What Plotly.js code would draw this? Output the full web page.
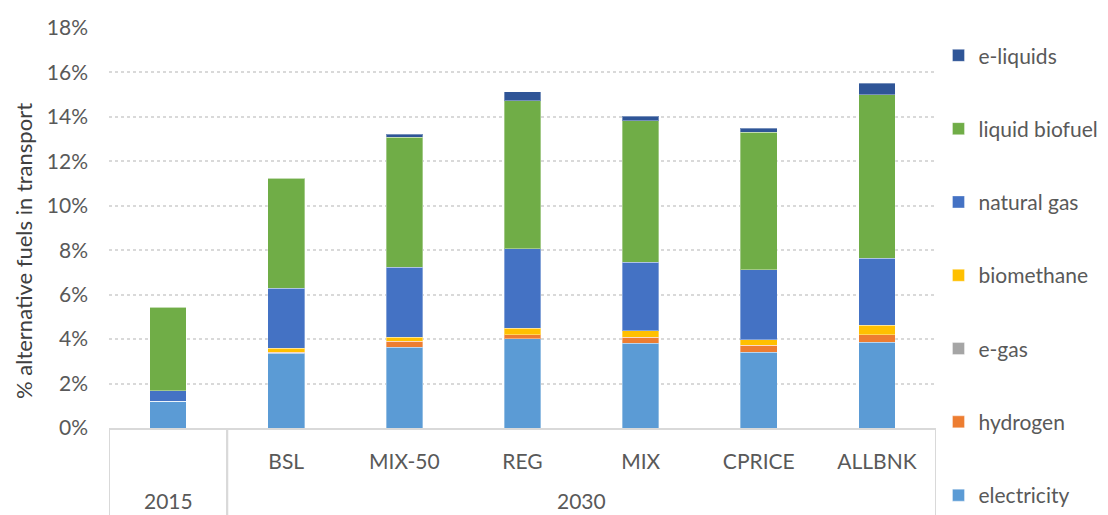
<!DOCTYPE html>
<html>
<head>
<meta charset="utf-8">
<script src="https://cdn.plot.ly/plotly-3.0.1.min.js"></script>
<style>html,body{margin:0;padding:0;background:#fff;}#chart{width:1108px;height:515px;}</style>
</head>
<body>
<div id="chart"></div>
<script>
// Categories (two-level x axis)
var years = ['2015', '2030', '2030', '2030', '2030', '2030', '2030'];
var scenarios = [' ', 'BSL', 'MIX-50', 'REG', 'MIX', 'CPRICE', 'ALLBNK'];

// Shares of alternative fuels in transport (%)
var electricity   = [1.20, 3.36, 3.63, 4.02, 3.81, 3.40, 3.87];
var hydrogen      = [0.00, 0.04, 0.28, 0.18, 0.28, 0.33, 0.33];
var eGas          = [0.00, 0.00, 0.00, 0.00, 0.00, 0.00, 0.00];
var biomethane    = [0.00, 0.18, 0.17, 0.29, 0.29, 0.24, 0.42];
var naturalGas    = [0.47, 2.72, 3.15, 3.57, 3.09, 3.16, 3.03];
var liquidBiofuel = [3.76, 4.95, 5.85, 6.66, 6.36, 6.19, 7.35];
var eLiquids      = [0.00, 0.00, 0.15, 0.41, 0.19, 0.18, 0.52];

var seriesNames = ['electricity', 'hydrogen', 'e-gas', 'biomethane', 'natural gas', 'liquid biofuel', 'e-liquids'];
var seriesValues = [electricity, hydrogen, eGas, biomethane, naturalGas, liquidBiofuel, eLiquids];
var seriesColors = ['#5B9BD5', '#ED7D31', '#A5A5A5', '#FFC000', '#4472C4', '#70AD47', '#2F5597'];

var traces = seriesNames.map(function (name, i) {
  return {
    type: 'bar',
    name: name,
    legendgroup: name,
    legendrank: seriesNames.length - i,
    x: scenarios,
    y: seriesValues[i],
    width: 0.31,
    marker: {color: seriesColors[i], line: {color: 'rgba(255,255,255,0.35)', width: 1}},
    hoverinfo: 'name+y'
  };
});

var font = 'Lato, "Open Sans", sans-serif';
var textColor = '#595959';

// Group (year) labels centred under their categories, with box lines around groups
var groupNames = [];
years.forEach(function (y) { if (groupNames.indexOf(y) < 0) groupNames.push(y); });
var annotations = [];
var shapes = [];
var boxBottom = -87 / 400;
groupNames.forEach(function (g) {
  var idx = [];
  years.forEach(function (y, i) { if (y === g) idx.push(i); });
  var first = idx[0], last = idx[idx.length - 1];
  annotations.push({
    text: g, xref: 'x', yref: 'paper', x: (first + last) / 2, y: -72 / 400,
    xanchor: 'center', yanchor: 'middle', showarrow: false,
    font: {family: font, size: 21, color: textColor}
  });
  [first - 0.5, last + 0.5].forEach(function (xb) {
    shapes.push({type: 'line', xref: 'x', yref: 'paper', x0: xb, x1: xb, y0: 0, y1: boxBottom,
                 line: {color: '#d9d9d9', width: 2}});
  });
});

annotations.push({
  text: '% alternative fuels in transport',
  textangle: -90,
  xref: 'paper', yref: 'paper',
  x: -0.104, y: 0.4425,
  xanchor: 'center', yanchor: 'middle',
  showarrow: false,
  font: {family: font, size: 22, color: '#404040'}
});

var layout = {
  width: 1108,
  height: 515,
  barmode: 'stack',
  paper_bgcolor: '#ffffff',
  plot_bgcolor: '#ffffff',
  margin: {l: 109, r: 172, t: 28, b: 87, autoexpand: false},
  font: {family: font, size: 21, color: textColor},
  xaxis: {
    type: 'category',
    range: [-0.5, 6.5],
    showline: true,
    linecolor: '#d9d9d9',
    linewidth: 2,
    ticks: '',
    ticklabelstandoff: 14,
    tickfont: {family: font, size: 21, color: textColor},
    showgrid: false,
    automargin: false
  },
  yaxis: {
    range: [0, 18],
    dtick: 2,
    ticksuffix: '%',
    showgrid: true,
    gridcolor: '#d9d9d9',
    griddash: 'dot',
    gridwidth: 1.5,
    zeroline: false,
    showline: false,
    ticks: '',
    ticklabelstandoff: 20,
    tickfont: {family: font, size: 21, color: textColor},
    automargin: false
  },
  legend: {
    x: 1.003,
    xanchor: 'left',
    y: 0.982,
    yanchor: 'top',
    maxheight: 515,
    traceorder: 'grouped',
    tracegroupgap: 43,
    font: {family: font, size: 21, color: textColor},
    bgcolor: 'rgba(0,0,0,0)'
  },
  shapes: shapes,
  annotations: annotations
};

Plotly.newPlot('chart', traces, layout, {displayModeBar: false});
</script>
</body>
</html>
